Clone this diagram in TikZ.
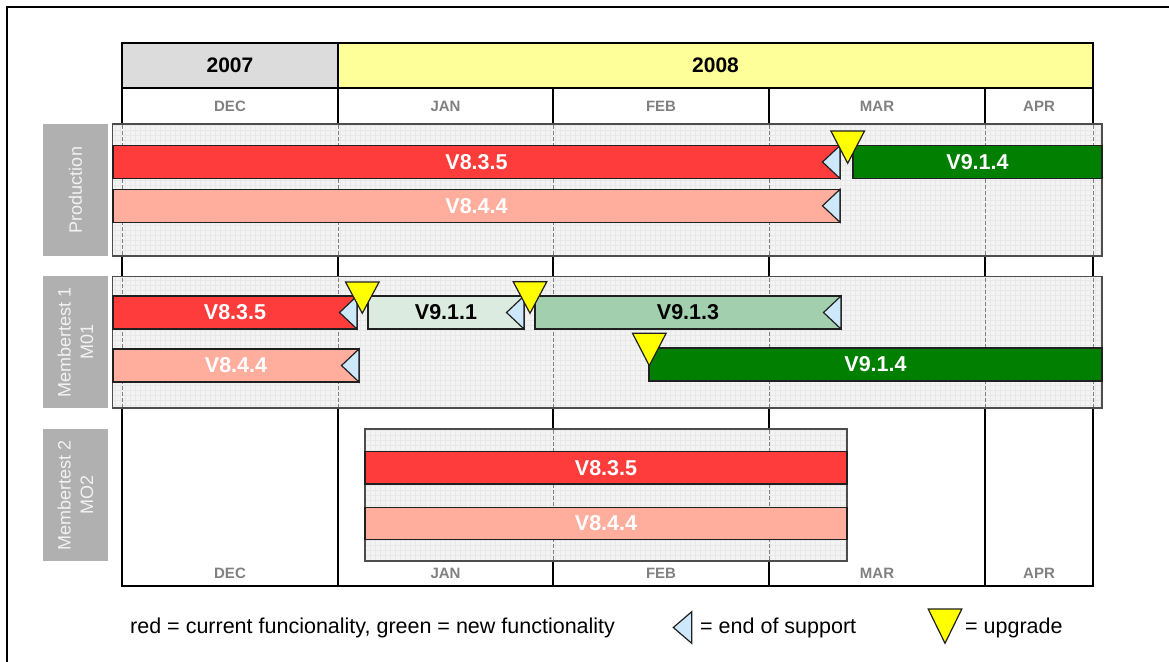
\documentclass[tikz,border=0pt]{standalone}
\usepackage{fontspec}
\setmainfont{Liberation Sans}
\definecolor{cRed}{HTML}{FF3C3C}
\definecolor{cSalmon}{HTML}{FFAE9E}
\definecolor{cGreen}{HTML}{007F00}
\definecolor{cPale}{HTML}{DCEBDF}
\definecolor{cMid}{HTML}{A2CFAD}
\definecolor{cBlue}{HTML}{CCE8FA}
\definecolor{cYellow}{HTML}{FFFF00}
\definecolor{cYa}{HTML}{DCDCDC}
\definecolor{cYb}{HTML}{FFFF99}
\definecolor{cSide}{HTML}{B0B0B0}
\definecolor{cSideTxt}{HTML}{F2F2F2}
\definecolor{cMonth}{HTML}{808080}
\definecolor{cBand}{HTML}{F3F3F3}
\definecolor{cGrid}{HTML}{E8E8E8}
\definecolor{cLine}{HTML}{202020}
\newcommand{\mkband}[4]{%
  \fill[cBand] (#1,#2) rectangle (#3,#4);
  \begin{scope}
    \clip (#1,#2) rectangle (#3,#4);
    \draw[cGrid, line width=0.4pt, step=5pt] (#1,#2) grid (#3,#4);
  \end{scope}
  \draw[bandborder] (#1,#2) rectangle (#3,#4);
}
\newcommand{\eosmark}[1]{\draw[eosst] (#1.north east) -- (#1.south east) -- ([xshift=-17.5pt]#1.east) -- cycle;}
\newcommand{\upgmark}[3]{\draw[upgst] ({#1-16.8},#2) -- ({#1+16.8},#2) -- (#1,#3) -- cycle;}
\begin{document}
\begin{tikzpicture}[x=1pt,y=-1pt,
  cell/.style={draw=black, line width=1.6pt, anchor=north west, inner sep=0pt, outer sep=0pt},
  yearlbl/.style={font=\fontsize{21}{25}\selectfont\bfseries, text=black},
  monthlbl/.style={font=\fontsize{15}{18}\selectfont\bfseries, text=cMonth},
  tableline/.style={draw=black, line width=1.6pt},
  bandborder/.style={draw=cLine!80!white, line width=1.2pt},
  monthdash/.style={draw=cMonth, line width=1pt, dash pattern=on 4pt off 2pt},
  bar/.style={draw=cLine, line width=1.2pt, anchor=north west, inner sep=0pt, outer sep=0pt,
    minimum height=33pt, font=\fontsize{21.5}{25}\selectfont\bfseries, text=white},
  eosst/.style={draw=cLine, fill=cBlue, line width=1.2pt, line join=miter},
  upgst/.style={draw=cLine, fill=cYellow, line width=1.2pt, line join=miter},
  sidebox/.style={fill=cSide, rotate=90, inner sep=0pt, minimum height=65pt, align=center,
    font=\fontsize{18}{22.5}\selectfont, text=cSideTxt},
  legendtxt/.style={font=\fontsize{21.5}{25}\selectfont, text=black, anchor=base west, inner sep=0pt}
]
\useasboundingbox (0,0) rectangle (1169,661);
\begin{scope}
  \clip (0,0) rectangle (1169,661);
  \draw[line width=2pt] (7,7) rectangle (1200,700);
\end{scope}

% header
\node[cell, fill=cYa, minimum width=216pt, minimum height=45pt, yearlbl] (y2007) at (122,43) {2007};
\node[cell, fill=cYb, minimum width=755pt, minimum height=45pt, yearlbl] (y2008) at (338,43) {2008};
\node[cell, minimum width=216pt, minimum height=36pt, monthlbl] (hdec) at (122,88) {DEC};
\node[cell, minimum width=215pt, minimum height=36pt, monthlbl] (hjan) at (338,88) {JAN};
\node[cell, minimum width=216pt, minimum height=36pt, monthlbl] (hfeb) at (553,88) {FEB};
\node[cell, minimum width=216pt, minimum height=36pt, monthlbl] (hmar) at (769,88) {MAR};
\node[cell, minimum width=108pt, minimum height=36pt, monthlbl] (hapr) at (985,88) {APR};

% table body
\draw[tableline] (122,124) -- (122,586) -- (1093,586) -- (1093,124);
\foreach \xx in {338,553,769,985} { \draw[tableline] (\xx,124) -- (\xx,586); }
\node[monthlbl] (bdec) at (230,573) {DEC};
\node[monthlbl] (bjan) at (445.5,573) {JAN};
\node[monthlbl] (bfeb) at (661,573) {FEB};
\node[monthlbl] (bmar) at (877,573) {MAR};
\node[monthlbl] (bapr) at (1039,573) {APR};

% bands
\mkband{112.5}{124}{1102}{256}
\mkband{112.5}{276.5}{1102}{408}
\mkband{365}{429}{847}{561}
\foreach \xx in {122,338,553,769,985,1093} {
  \draw[monthdash] (\xx,125) -- (\xx,255);
  \draw[monthdash] (\xx,277.5) -- (\xx,407);
}
\foreach \xx in {553,769} { \draw[monthdash] (\xx,430) -- (\xx,560); }

% side labels
\node[sidebox, minimum width=132pt] (sprod) at (75.5,190) {Production};
\node[sidebox, minimum width=132pt] (sm01) at (75.5,342) {Membertest 1\\M01};
\node[sidebox, minimum width=132pt] (smo2) at (75.5,495) {Membertest 2\\MO2};

% production bars
\node[bar, fill=cRed, minimum width=727pt] (p835) at (113,145.5) {V8.3.5};
\node[bar, fill=cGreen, minimum width=249pt] (p914) at (853,145.5) {V9.1.4};
\node[bar, fill=cSalmon, minimum width=727pt] (p844) at (113,189.3) {V8.4.4};
\eosmark{p835}
\eosmark{p844}
\upgmark{847.7}{131}{163.3}

% membertest 1 bars
\node[bar, fill=cRed, minimum width=244pt] (m835) at (113,296) {V8.3.5};
\node[bar, fill=cPale, text=black, minimum width=156pt] (m911) at (368,296) {V9.1.1};
\node[bar, fill=cMid, text=black, minimum width=306pt] (m913) at (535,296) {V9.1.3};
\node[bar, fill=cSalmon, minimum width=246pt] (m844) at (113,349) {V8.4.4};
\node[bar, fill=cGreen, minimum width=453pt] (m914) at (649,348) {V9.1.4};
\eosmark{m835}
\eosmark{m911}
\eosmark{m913}
\eosmark{m844}
\upgmark{362.3}{282}{313.3}
\upgmark{530}{281.7}{313.3}
\upgmark{649.3}{333.3}{365.7}

% membertest 2 bars
\node[bar, fill=cRed, minimum width=482pt, minimum height=32.3pt] (t835) at (365,451.7) {V8.3.5};
\node[bar, fill=cSalmon, minimum width=482pt, minimum height=32.4pt] (t844) at (365,507.3) {V8.4.4};

% legend
\node[legendtxt] (lg1) at (130,633) {red = current funcionality, green = new functionality};
\coordinate (le) at (691.7,611.7);
\draw[eosst] (le) -- (691.7,643.3) -- (673.3,627.5) -- cycle;
\node[legendtxt] (lg2) at (700,633) {= end of support};
\upgmark{945}{609}{643.3}
\node[legendtxt] (lg3) at (965,633) {= upgrade};
\end{tikzpicture}
\end{document}
